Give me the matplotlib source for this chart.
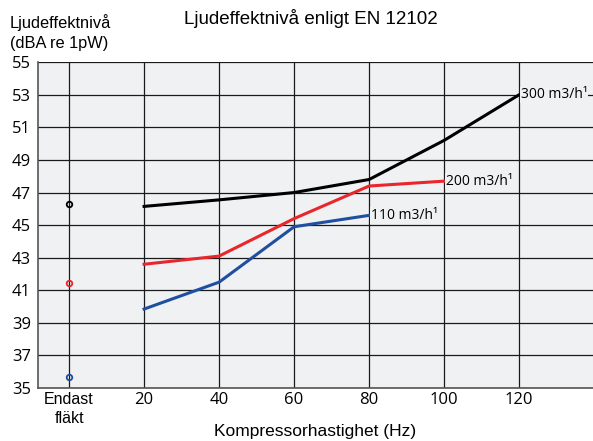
import numpy as np
import matplotlib.pyplot as plt

# kompressorhastighet (Hz)
hz = [20, 40, 60, 80, 100, 120]

# ljudeffektnivå per luftflöde
niva_300 = [46.15, 46.55, 47.0, 47.8, 50.2, 53.0]
niva_200 = [42.6, 43.1, 45.4, 47.4, 47.7]
niva_110 = [39.85, 41.5, 44.9, 45.6]

# endast fläkt
flakt_300 = 46.3
flakt_200 = 41.45
flakt_110 = 35.7

etiketter = ['300 m3/h¹', '200 m3/h¹', '110 m3/h¹']
xtick_labels = ['Endast\nfläkt', '20', '40', '60', '80', '100', '120']
yticks = np.arange(35, 56, 2)

fig = plt.figure(figsize=(5.93, 4.41), dpi=100)
ax = fig.add_axes([0.064, 0.12, 0.936, 0.739])
ax.set_facecolor('#f0f1f3')

svart, rod, bla = '#000000', '#e8262b', '#1f4fa0'

ax.plot(hz, niva_300, c=svart, lw=2.2, zorder=3)
ax.plot(hz[:5], niva_200, c=rod, lw=2.2, zorder=3)
ax.plot(hz[:4], niva_110, c=bla, lw=2.2, zorder=3)

for y, c in [(flakt_300, svart), (flakt_200, rod), (flakt_110, bla)]:
    ax.plot(0, y, 'o', mfc='none', mec=c, ms=4, mew=1.3, zorder=3)

box = dict(facecolor='#f0f1f3', edgecolor='none', pad=0.5)
ax.text(hz[5] + 0.5, niva_300[-1], etiketter[0], fontsize=10, family='Open Sans',
        va='center', ha='left', bbox=box, zorder=4)
ax.text(hz[4] + 0.5, niva_200[-1], etiketter[1], fontsize=10, family='Open Sans',
        va='center', ha='left', bbox=box, zorder=4)
ax.text(hz[3] + 0.5, niva_110[-1], etiketter[2], fontsize=10, family='Open Sans',
        va='center', ha='left', bbox=box, zorder=4)

ax.set_xlim(-8.3, 139.7)
ax.set_ylim(35, 55)
ax.set_xticks([0] + hz)
ax.set_xticklabels(xtick_labels)
ax.set_yticks(yticks)
for lbl in ax.get_yticklabels():
    lbl.set_family('Open Sans')
    lbl.set_fontsize(12)
for i, lbl in enumerate(ax.get_xticklabels()):
    lbl.set_family('Liberation Sans' if i == 0 else 'Open Sans')
    lbl.set_fontsize(11.5 if i == 0 else 12)
    lbl.set_linespacing(1.35)
ax.tick_params(axis='x', length=0, pad=3)
ax.tick_params(axis='y', length=0, pad=5)
ax.grid(True, color='#1a1a1a', lw=0.9, zorder=1)
ax.set_axisbelow(True)

ax.spines['right'].set_visible(False)
ax.spines['top'].set_visible(False)
ax.spines['left'].set_color('#555555')
ax.spines['bottom'].set_color('#555555')
ax.spines['left'].set_linewidth(1.2)
ax.spines['bottom'].set_linewidth(1.2)

fig.text(0.532, 0.021, 'Kompressorhastighet (Hz)', family='Liberation Sans',
         fontsize=12.5, ha='center', va='center')
fig.text(0.524, 0.959, 'Ljudeffektnivå enligt EN 12102', family='Liberation Sans',
         fontsize=13.5, ha='center', va='center')
fig.text(0.017, 0.926, 'Ljudeffektnivå\n(dBA re 1pW)', family='Liberation Sans',
         fontsize=11.8, ha='left', va='center', linespacing=1.4)

plt.savefig('out.png', dpi=100)
